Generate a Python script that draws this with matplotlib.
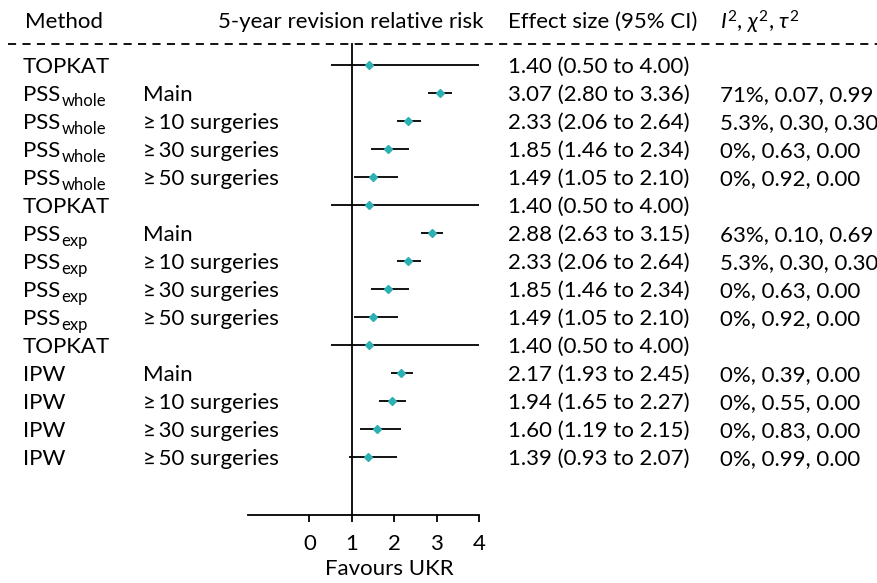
import matplotlib
matplotlib.use("Agg")
import matplotlib.pyplot as plt
import matplotlib.transforms as mtransforms
from matplotlib.lines import Line2D

plt.rcParams["font.family"] = ["Lato", "DejaVu Sans"]
plt.rcParams["mathtext.fontset"] = "custom"
plt.rcParams["mathtext.rm"] = "Lato"
plt.rcParams["mathtext.it"] = "Lato:italic"

# method name and subscript kept apart so the subscript can be sized like the original
methods = ["TOPKAT", "PSS", "PSS", "PSS", "PSS", "TOPKAT", "PSS", "PSS",
           "PSS", "PSS", "TOPKAT", "IPW", "IPW", "IPW", "IPW"]
method_subs = ["", "whole", "whole", "whole", "whole", "", "exp", "exp",
               "exp", "exp", "", "", "", "", ""]
subgroups = ["", "Main", "≥\u200910 surgeries", "≥\u200930 surgeries", "≥\u200950 surgeries", "",
             "Main", "≥\u200910 surgeries", "≥\u200930 surgeries", "≥\u200950 surgeries", "",
             "Main", "≥\u200910 surgeries", "≥\u200930 surgeries", "≥\u200950 surgeries"]
rr = [1.40, 3.07, 2.33, 1.85, 1.49, 1.40, 2.88, 2.33, 1.85, 1.49, 1.40, 2.17, 1.94, 1.60, 1.39]
lo = [0.50, 2.80, 2.06, 1.46, 1.05, 0.50, 2.63, 2.06, 1.46, 1.05, 0.50, 1.93, 1.65, 1.19, 0.93]
hi = [4.00, 3.36, 2.64, 2.34, 2.10, 4.00, 3.15, 2.64, 2.34, 2.10, 4.00, 2.45, 2.27, 2.15, 2.07]
het = ["", "71%, 0.07, 0.99", "5.3%, 0.30, 0.30", "0%, 0.63, 0.00", "0%, 0.92, 0.00", "",
       "63%, 0.10, 0.69", "5.3%, 0.30, 0.30", "0%, 0.63, 0.00", "0%, 0.92, 0.00", "",
       "0%, 0.39, 0.00", "0%, 0.55, 0.00", "0%, 0.83, 0.00", "0%, 0.99, 0.00"]
xticks = [0, 1, 2, 3, 4]

W, H = 878, 583
fig = plt.figure(figsize=(W / 100, H / 100), dpi=100)
# axes in pixel terms: x from 248 to 479, y from 43 to 515
ax = fig.add_axes([248 / W, 1 - 515 / H, (479 - 248) / W, (515 - 43) / H])
ax.set_xlim(-1.45, 4.0)
ax.set_ylim(16.07, -0.786)
for s in ["left", "top", "right"]:
    ax.spines[s].set_visible(False)
ax.spines["bottom"].set_linewidth(1.3)
ax.set_yticks([])
ax.set_xticks(xticks)
fs = 16
ax.tick_params(axis="x", direction="out", length=5, width=1.3, labelsize=fs, pad=9)
ax.set_xlabel("Favours UKR", fontsize=fs)
ax.xaxis.set_label_coords(0.61, -0.093)
ax.axvline(1, color="black", lw=1.3)

rows = list(range(len(rr)))
ax.hlines(rows, lo, hi, color="black", lw=1.3, clip_on=False)
ax.plot(rr, rows, "D", color="#2fb0b5", ms=4.5, mec="#2fb0b5", clip_on=False, zorder=3)

tr = mtransforms.blended_transform_factory(fig.transFigure, ax.transData)
base_tr = mtransforms.offset_copy(tr, fig=fig, x=0, y=-8, units="dots")
sub_tr = mtransforms.offset_copy(tr, fig=fig, x=0, y=-13, units="dots")
renderer = fig.canvas.get_renderer()
for i in rows:
    t = fig.text(23 / W, i, methods[i], transform=base_tr, fontsize=fs, va="baseline")
    if method_subs[i]:
        bb = t.get_window_extent(renderer)
        fig.text((bb.x1 + 1) / W, i, method_subs[i], transform=sub_tr, fontsize=12,
                 va="baseline")
    fig.text(143 / W, i, subgroups[i], transform=base_tr, fontsize=fs, va="baseline")
    fig.text(508 / W, i, f"{rr[i]:.2f} ({lo[i]:.2f} to {hi[i]:.2f})", transform=base_tr,
             fontsize=fs, va="baseline")
    fig.text(720 / W, i, het[i], transform=base_tr, fontsize=fs, va="baseline")

hy = 1 - 22 / H
fig.text(25 / W, hy, "Method", fontsize=fs, va="center")
fig.text(218 / W, hy, "5-year revision relative risk", fontsize=fs, va="center")
fig.text(508 / W, hy, "Effect size (95% CI)", fontsize=fs, va="center")
fig.text(720 / W, hy, "$I^2$, $\\chi^2$, $\\tau^2$", fontsize=fs, va="center")

fig.add_artist(Line2D([8 / W, 1], [1 - 44 / H, 1 - 44 / H], transform=fig.transFigure,
                      color="black", lw=1.3, dashes=(4.5, 3.5)))

fig.savefig("out.png", dpi=100)
